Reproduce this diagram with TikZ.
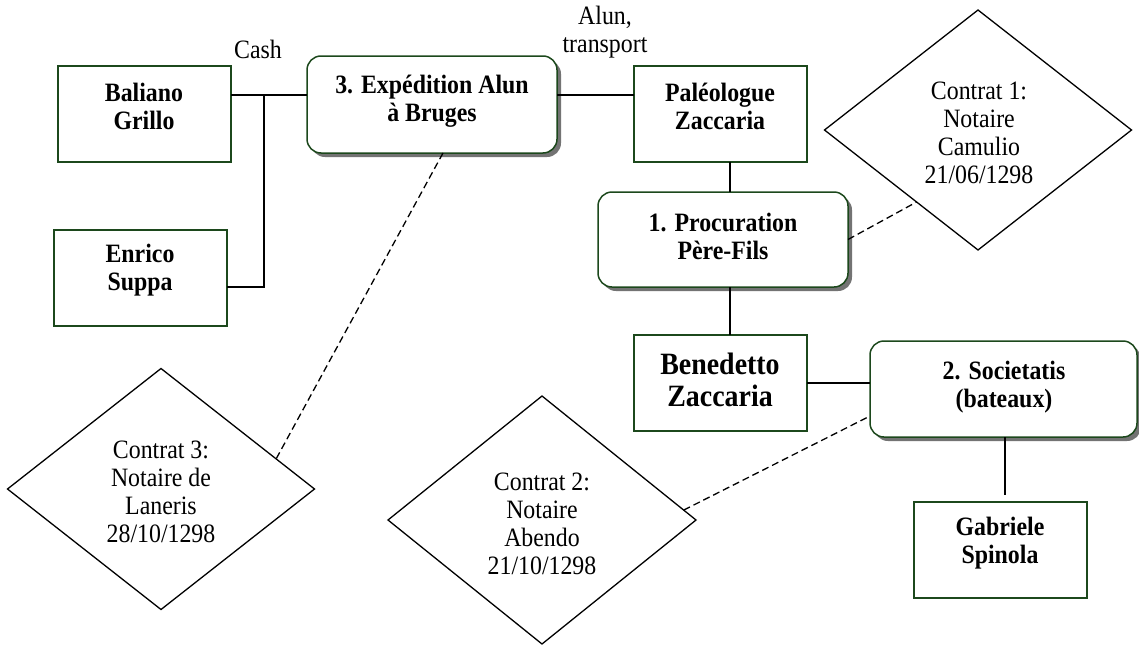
\documentclass[tikz,border=0pt]{standalone}
\usepackage{fontspec}
\setmainfont[FakeStretch=0.9]{Liberation Serif}
\usetikzlibrary{shapes.geometric,shadows,calc}
\definecolor{boxgreen}{RGB}{28,72,28}
\begin{document}
\begin{tikzpicture}[x=1pt,y=-1pt,
  sq/.style={rectangle, draw=boxgreen, line width=1.5pt, fill=white, inner sep=0pt, outer sep=0pt},
  rbox/.style={sq, rounded corners=14pt, drop shadow={shadow xshift=4pt, shadow yshift=-4pt, fill=black!55, opacity=1}},
  dia/.style={diamond, draw=black, line width=1.3pt, inner sep=0pt, outer sep=0pt},
  btxt/.style={font=\fontsize{26.5}{28}\selectfont\bfseries, align=center, inner sep=0pt},
  bigtxt/.style={font=\fontsize{31}{32}\selectfont\bfseries, align=center, inner sep=0pt},
  ntxt/.style={font=\fontsize{26.5}{28}\selectfont, align=center, inner sep=0pt},
  link/.style={draw=black, line width=1.3pt},
  dlink/.style={link, dash pattern=on 7pt off 4pt}]
\useasboundingbox (0,0) rectangle (1139,645);

% boxes
\node[sq, minimum width=173pt, minimum height=96pt] (bal) at (144.5,114) {};
\node[sq, minimum width=173pt, minimum height=96pt] (enr) at (140.5,278) {};
\node[rbox, minimum width=250pt, minimum height=97pt] (exp) at (432,104.5) {};
\node[sq, minimum width=173pt, minimum height=96pt] (pal) at (720.5,114) {};
\node[rbox, minimum width=250pt, minimum height=95pt] (proc) at (723,239.5) {};
\node[sq, minimum width=173pt, minimum height=96pt] (bene) at (720.5,383) {};
\node[rbox, minimum width=267pt, minimum height=96pt] (soc) at (1003.5,389) {};
\node[sq, minimum width=173pt, minimum height=96pt] (gab) at (1000.5,550) {};

% diamonds
\node[dia, minimum width=307pt, minimum height=240pt] (c1) at (978,130) {};
\node[dia, minimum width=307pt, minimum height=241pt] (c3) at (161,489) {};
\node[dia, minimum width=308pt, minimum height=248pt] (c2) at (542,520) {};

% texts
\node[btxt] (balt) at (144,106) {Baliano\\Grillo};
\node[btxt] (enrt) at (140,270) {Enrico\\Suppa};
\node[btxt] (expt) at (432,101) {3. Expédition Alun\\à Bruges};
\node[btxt] (palt) at (720,106) {Paléologue\\Zaccaria};
\node[btxt] (proct) at (723,236) {1. Procuration\\Père-Fils};
\node[bigtxt] (benet) at (720,380) {Benedetto\\Zaccaria};
\node[btxt] (soct) at (1004,387) {2. Societatis\\(bateaux)};
\node[btxt] (gabt) at (1000,543) {Gabriele\\Spinola};
\node[ntxt] (c1t) at (979,133) {Contrat 1:\\Notaire\\Camulio\\21/06/1298};
\node[ntxt] (c3t) at (161,492) {Contrat 3:\\Notaire de\\Laneris\\28/10/1298};
\node[ntxt] (c2t) at (542,524) {Contrat 2:\\Notaire\\Abendo\\21/10/1298};
\node[ntxt] (cash) at (258,49) {Cash};
\node[ntxt] (alun) at (605,32) {Alun,\\transport};

% connectors
\coordinate (j1) at (264,95);
\coordinate (j2) at (264,287);
\draw[link] (bal.east |- j1) -- (exp.west |- j1);
\draw[link] (j1) -- (j2) -- (enr.east |- j2);
\draw[link] (exp.east |- j1) -- (pal.west |- j1);
\coordinate (vx) at (730,0);
\draw[link] (pal.south -| vx) -- (proc.north -| vx);
\draw[link] (proc.south -| vx) -- (bene.north -| vx);
\coordinate (hb) at (0,383);
\draw[link] (bene.east |- hb) -- (soc.west |- hb);
\coordinate (vs) at (1005,0);
\draw[link, shorten >=7pt] (soc.south -| vs) -- (gab.north -| vs);

% dashed
\draw[dlink] (proc.east) -- ($(c1.west)!0.6!(c1.south)$);
\draw[dlink] ($(exp.south west)!0.544!(exp.south east)$) -- ($(c3.north)!0.75!(c3.east)$);
\draw[dlink] ($(c2.north)!0.92!(c2.east)$) -- ($(soc.west)+(0,27)$);
\end{tikzpicture}
\end{document}
